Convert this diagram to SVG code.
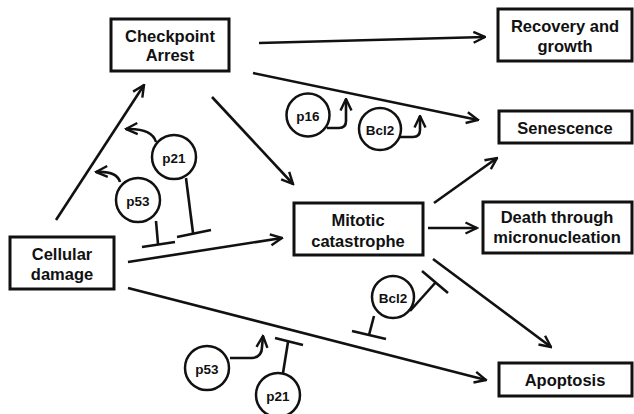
<svg xmlns="http://www.w3.org/2000/svg" width="634" height="414" viewBox="0 0 634 414">
<style>
.box{fill:#fff;stroke:#111;stroke-width:3}
.lbl{font-family:"Liberation Sans",Arial,sans-serif;font-weight:bold;font-size:16.5px;fill:#111;text-anchor:middle;dominant-baseline:central}
.mol{fill:#fff;stroke:#111;stroke-width:2.5}
.ml{font-family:"Liberation Sans",Arial,sans-serif;font-weight:bold;font-size:13.5px;fill:#111;text-anchor:middle;dominant-baseline:central}
.ln{fill:none;stroke:#111;stroke-width:2.6;stroke-linecap:butt}
.arr{marker-end:url(#ah)}
</style>
<defs>
<marker id="ah" viewBox="0 0 14 14" refX="12.5" refY="7" markerWidth="14" markerHeight="14" markerUnits="userSpaceOnUse" orient="auto">
<path d="M1,1.5 L12.5,7 L1,12.5" fill="none" stroke="#111" stroke-width="2.4"/>
</marker>
</defs>
<rect width="634" height="414" fill="#fff"/>
<g id="connectors">
<line class="ln arr" x1="259" y1="43" x2="485" y2="37"/>
<line class="ln arr" x1="253" y1="73" x2="478" y2="120"/>
<line class="ln arr" x1="212" y1="97" x2="293" y2="184"/>
<line class="ln arr" x1="56" y1="220" x2="144" y2="85"/>
<line class="ln arr" x1="128" y1="262" x2="282" y2="238"/>
<line class="ln arr" x1="128" y1="288" x2="486" y2="380"/>
<line class="ln arr" x1="434" y1="203" x2="497" y2="158"/>
<line class="ln arr" x1="428" y1="228" x2="477" y2="228"/>
<line class="ln arr" x1="433" y1="259" x2="551" y2="347"/>
<!-- regulatory arrows -->
<path class="ln arr" d="M156,142 Q152,128 126,129"/>
<path class="ln arr" d="M120,182 Q117,171 96,172"/>
<path class="ln arr" d="M327,128 L339,128 Q346,128 346,121 L346,99"/>
<path class="ln arr" d="M400,137 L413,137 Q420,137 420,130 L420,116"/>
<path class="ln arr" d="M230,358 L252,358 Q262,357 262,347 L263,336"/>
<!-- inhibitions -->
<line class="ln" x1="186" y1="178" x2="193" y2="233"/>
<line class="ln" x1="177" y1="237" x2="211" y2="230"/>
<line class="ln" x1="156" y1="221" x2="158" y2="244"/>
<line class="ln" x1="142" y1="247" x2="175" y2="242"/>
<line class="ln" x1="374" y1="316" x2="369" y2="335"/>
<line class="ln" x1="352" y1="331" x2="386" y2="339"/>
<line class="ln" x1="410" y1="311" x2="436" y2="282"/>
<line class="ln" x1="422" y1="271" x2="448" y2="293"/>
<line class="ln" x1="283" y1="373" x2="288" y2="342"/>
<line class="ln" x1="275" y1="338" x2="303" y2="345"/>
</g>
<g id="checkpoint"><rect class="box" x="111" y="19" width="118" height="52"/><text class="lbl" x="170" y="36">Checkpoint</text><text class="lbl" x="170" y="55">Arrest</text></g>
<g id="recovery"><rect class="box" x="498" y="9" width="134" height="52"/><text class="lbl" x="565" y="26">Recovery and</text><text class="lbl" x="565" y="46">growth</text></g>
<g id="senescence"><rect class="box" x="499" y="111" width="133" height="32"/><text class="lbl" x="565" y="128">Senescence</text></g>
<g id="cellular"><rect class="box" x="10" y="237" width="104" height="52"/><text class="lbl" x="62" y="254">Cellular</text><text class="lbl" x="62" y="274">damage</text></g>
<g id="mitotic"><rect class="box" x="294" y="203" width="129" height="52"/><text class="lbl" x="358" y="220">Mitotic</text><text class="lbl" x="358" y="241">catastrophe</text></g>
<g id="death"><rect class="box" x="483" y="202" width="149" height="51"/><text class="lbl" x="557" y="217">Death through</text><text class="lbl" x="557" y="237">micronucleation</text></g>
<g id="apoptosis"><rect class="box" x="499" y="363" width="133" height="33"/><text class="lbl" x="565" y="380">Apoptosis</text></g>
<g id="p21a"><circle class="mol" cx="174" cy="157" r="22"/><text class="ml" x="174" y="158">p21</text></g>
<g id="p53a"><circle class="mol" cx="138" cy="200" r="22"/><text class="ml" x="138" y="201">p53</text></g>
<g id="p16"><circle class="mol" cx="308" cy="115" r="21.5"/><text class="ml" x="308" y="116">p16</text></g>
<g id="bcl2a"><circle class="mol" cx="380" cy="129" r="21"/><text class="ml" x="380" y="130">Bcl2</text></g>
<g id="bcl2b"><circle class="mol" cx="393" cy="297" r="21"/><text class="ml" x="393" y="298">Bcl2</text></g>
<g id="p53b"><circle class="mol" cx="207" cy="368" r="22"/><text class="ml" x="207" y="369">p53</text></g>
<g id="p21b"><circle class="mol" cx="278" cy="395" r="22"/><text class="ml" x="278" y="396">p21</text></g>
</svg>
